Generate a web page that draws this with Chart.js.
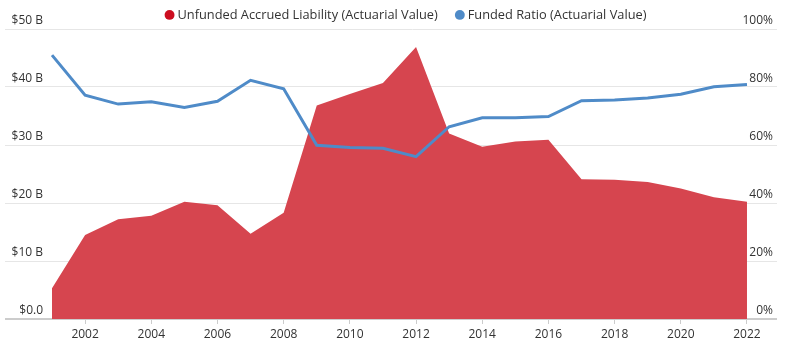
<!DOCTYPE html>
<html>
<head>
<meta charset="utf-8">
<script src="https://cdn.jsdelivr.net/npm/chart.js@4"></script>
<style>
  html, body { margin: 0; padding: 0; background: #fff; }
  #wrap { width: 794px; height: 353px; }
</style>
</head>
<body>
<div id="wrap"><canvas id="pensionChart"></canvas></div>
<script>
const years = [2001, 2002, 2003, 2004, 2005, 2006, 2007, 2008, 2009, 2010, 2011,
    2012, 2013, 2014, 2015, 2016, 2017, 2018, 2019, 2020, 2021, 2022];
// unfunded accrued liability, billions of dollars
const unfunded = [5.3, 14.5, 17.2, 17.8, 20.2, 19.6, 14.7, 18.3, 36.8, 38.8, 40.7,
    46.9, 32.0, 29.7, 30.6, 30.9, 24.1, 24.0, 23.6, 22.5, 21.0, 20.2];
// funded ratio, percent
const fundedRatio = [91.0, 77.2, 74.1, 74.9, 72.9, 75.1, 82.3, 79.4, 59.9, 59.1, 58.9,
    56.0, 66.3, 69.4, 69.4, 69.8, 75.3, 75.5, 76.2, 77.5, 80.1, 80.9];
const yearTicks = [2002, 2004, 2006, 2008, 2010, 2012, 2014, 2016, 2018, 2020, 2022];
const dollarTicks = [0, 10, 20, 30, 40, 50];
const percentTicks = [0, 20, 40, 60, 80, 100];

const redFill = '#d6454f';
const redDot = '#cc0d1f';
const blue = '#4f8bc8';
const textColor = '#333333';

document.addEventListener('DOMContentLoaded', function () {
    const ctx = document.getElementById('pensionChart').getContext('2d');
    const gridColor = c => (c.tick && c.tick.value === 0 ? '#cccccc' : '#e6e6e6');

    new Chart(ctx, {
        type: 'line',
        data: {
            datasets: [
                {
                    label: 'Unfunded Accrued Liability (Actuarial Value)',
                    data: years.map((y, i) => ({ x: y, y: unfunded[i] })),
                    yAxisID: 'yDollar',
                    backgroundColor: redFill,
                    borderColor: redFill,
                    borderWidth: 0,
                    fill: 'origin',
                    pointRadius: 0,
                    tension: 0,
                    order: 2,
                },
                {
                    label: 'Funded Ratio (Actuarial Value)',
                    data: years.map((y, i) => ({ x: y, y: fundedRatio[i] })),
                    yAxisID: 'yPercent',
                    borderColor: blue,
                    backgroundColor: blue,
                    borderWidth: 3,
                    fill: false,
                    pointRadius: 0,
                    tension: 0,
                    order: 1,
                },
            ],
        },
        options: {
            responsive: true,
            maintainAspectRatio: false,
            animation: false,
            // negative right/top padding lets the legend sit where the original one does
            layout: { padding: { left: 5, right: -15.5, top: -12, bottom: 8.6 } },
            plugins: {
                tooltip: { enabled: false },
                legend: {
                    position: 'top',
                    maxHeight: 41,
                    labels: {
                        color: textColor,
                        font: { family: 'Open Sans', size: 12.8 },
                        usePointStyle: true,
                        pointStyle: 'circle',
                        boxWidth: 3,
                        boxHeight: 7,
                        padding: 20.5,
                        generateLabels: function (chart) {
                            const dots = [redDot, blue];
                            return chart.data.datasets.map((ds, i) => ({
                                text: ds.label,
                                fillStyle: dots[i],
                                strokeStyle: dots[i],
                                lineWidth: 0,
                                pointStyle: 'circle',
                                fontColor: textColor,
                                datasetIndex: i,
                            }));
                        },
                    },
                },
            },
            scales: {
                x: {
                    type: 'linear',
                    min: 2000.879,
                    max: 2022.907,
                    afterBuildTicks: axis => { axis.ticks = yearTicks.map(v => ({ value: v })); },
                    grid: { drawOnChartArea: false, drawTicks: true, tickLength: 5, color: '#cccccc' },
                    border: { display: false },
                    ticks: {
                        color: textColor,
                        font: { family: 'Open Sans', size: 12 },
                        padding: 3,
                        maxRotation: 0,
                        autoSkip: false,
                        callback: v => String(v),
                    },
                },
                yDollar: {
                    position: 'left',
                    min: 0,
                    max: 50,
                    afterBuildTicks: axis => { axis.ticks = dollarTicks.map(v => ({ value: v })); },
                    afterFit: axis => { axis.width = 43; },
                    grid: {
                        drawTicks: true,
                        tickLength: 43,
                        color: gridColor,
                        tickColor: gridColor,
                        lineWidth: c => (c.tick && c.tick.value === 0 ? 2 : 1),
                    },
                    border: { display: false },
                    ticks: {
                        color: textColor,
                        font: { family: 'Open Sans', size: 12 },
                        crossAlign: 'near',
                        padding: -38,
                        labelOffset: -8,
                        callback: v => (v === 0 ? '$0.0' : '$' + v + ' B'),
                    },
                },
                yPercent: {
                    position: 'right',
                    min: 0,
                    max: 100,
                    afterBuildTicks: axis => { axis.ticks = percentTicks.map(v => ({ value: v })); },
                    afterFit: axis => { axis.width = 32.5; },
                    grid: { display: false },
                    border: { display: false },
                    ticks: {
                        color: textColor,
                        font: { family: 'Open Sans', size: 12 },
                        mirror: true,
                        padding: -4,
                        labelOffset: -8,
                        callback: v => v + '%',
                    },
                },
            },
        },
    });
});
</script>
</body>
</html>
